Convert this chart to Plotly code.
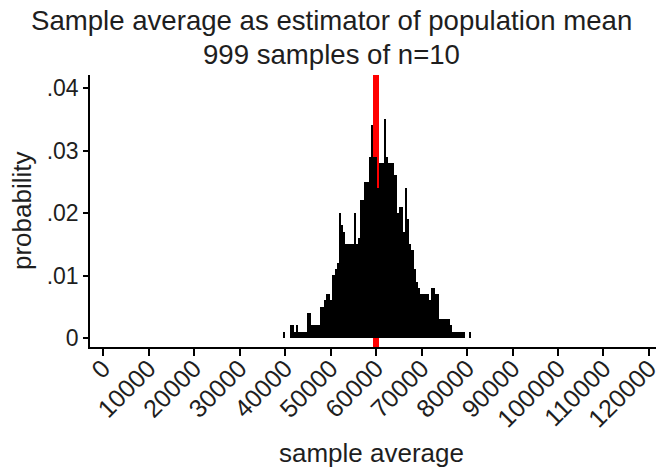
import plotly.graph_objects as go

# Histogram of 999 sample averages (samples of size n=10)
n_samples = 999
bin_start = 39600
bin_width = 470
counts = [
    1, 0, 0, 2, 2, 1, 2, 1, 1, 1, 1,
    4, 4, 2, 2, 2, 2, 5, 5, 6, 7,
    7, 6, 10, 11, 12, 20, 18, 17, 15, 15,
    15, 15, 20, 15, 16, 22, 22, 25, 25, 29,
    34, 29, 29, 24, 28, 28, 35, 29, 28, 28,
    28, 26, 20, 21, 21, 17, 24, 19, 15, 14,
    11, 9, 8, 7, 7, 7, 7, 6, 8, 8,
    7, 7, 3, 3, 3, 3, 3, 2, 1, 1,
    1, 1, 1, 1, 0, 0, 1, 0,
]
population_mean = 60000

x_tick_vals = list(range(0, 120001, 10000))
x_tick_text = [str(v) for v in x_tick_vals]
y_tick_vals = [0, 0.01, 0.02, 0.03, 0.04]
y_tick_text = ["0", ".01", ".02", ".03", ".04"]

title_line1 = "Sample average as estimator of population mean"
title_line2 = "999 samples of n=10"
x_title = "sample average"
y_title = "probability"

centers = [bin_start + bin_width * (i + 0.5) for i in range(len(counts))]
fractions = [c / n_samples for c in counts]

FONT = "Liberation Sans, Arial, sans-serif"
TEXT = "#1e1e1e"

fig = go.Figure()
fig.add_trace(go.Bar(
    x=centers,
    y=fractions,
    width=bin_width,
    marker=dict(color="black", line=dict(width=0)),
    hoverinfo="x+y",
))

# population mean reference line, drawn behind the bars
fig.add_shape(
    type="line", xref="x", yref="paper",
    x0=population_mean, x1=population_mean, y0=0, y1=1,
    line=dict(color="#ff0000", width=6),
    layer="below",
)

xaxis = dict(
    range=[-2860, 121540],
    tickmode="array", tickvals=x_tick_vals, ticktext=x_tick_text,
    tickangle=-45,
    tickfont=dict(size=25, family=FONT, color=TEXT),
    ticks="outside", ticklen=7, tickwidth=1.5, tickcolor="black",
    showline=True, linecolor="black", linewidth=1.5,
    showgrid=False, zeroline=False, automargin=False,
)

fig.update_layout(
    width=662, height=473,
    margin=dict(l=90, r=6, t=75, b=126),
    paper_bgcolor="white",
    plot_bgcolor="white",
    showlegend=False,
    bargap=0,
    font=dict(family=FONT, color=TEXT),
    xaxis=xaxis,
    yaxis=dict(
        range=[-0.00144, 0.04208],
        tickmode="array", tickvals=y_tick_vals, ticktext=y_tick_text,
        tickfont=dict(size=23, family=FONT, color=TEXT),
        ticks="outside", ticklen=5, tickwidth=1.5, tickcolor="black",
        showline=True, linecolor="black", linewidth=1.5,
        showgrid=False, zeroline=False, automargin=False,
    ),
    annotations=[
        dict(text=title_line1, xref="paper", yref="paper", x=0.4258, y=1.202,
             xanchor="center", yanchor="middle", showarrow=False,
             font=dict(size=27.6, family=FONT, color=TEXT)),
        dict(text=title_line2, xref="paper", yref="paper", x=0.4258, y=1.074,
             xanchor="center", yanchor="middle", showarrow=False,
             font=dict(size=27.6, family=FONT, color=TEXT)),
        dict(text=x_title, xref="paper", yref="paper", x=0.498, y=-0.39,
             xanchor="center", yanchor="middle", showarrow=False,
             font=dict(size=26, family=FONT, color=TEXT)),
        dict(text=y_title, xref="paper", yref="paper", x=-0.12, y=0.5,
             xanchor="center", yanchor="middle", showarrow=False, textangle=-90,
             font=dict(size=26, family=FONT, color=TEXT)),
    ],
)

# pull the rotated tick labels closer to the axis
try:
    fig.update_xaxes(ticklabelstandoff=-12)
except Exception:
    pass

fig.write_html("out.html")
